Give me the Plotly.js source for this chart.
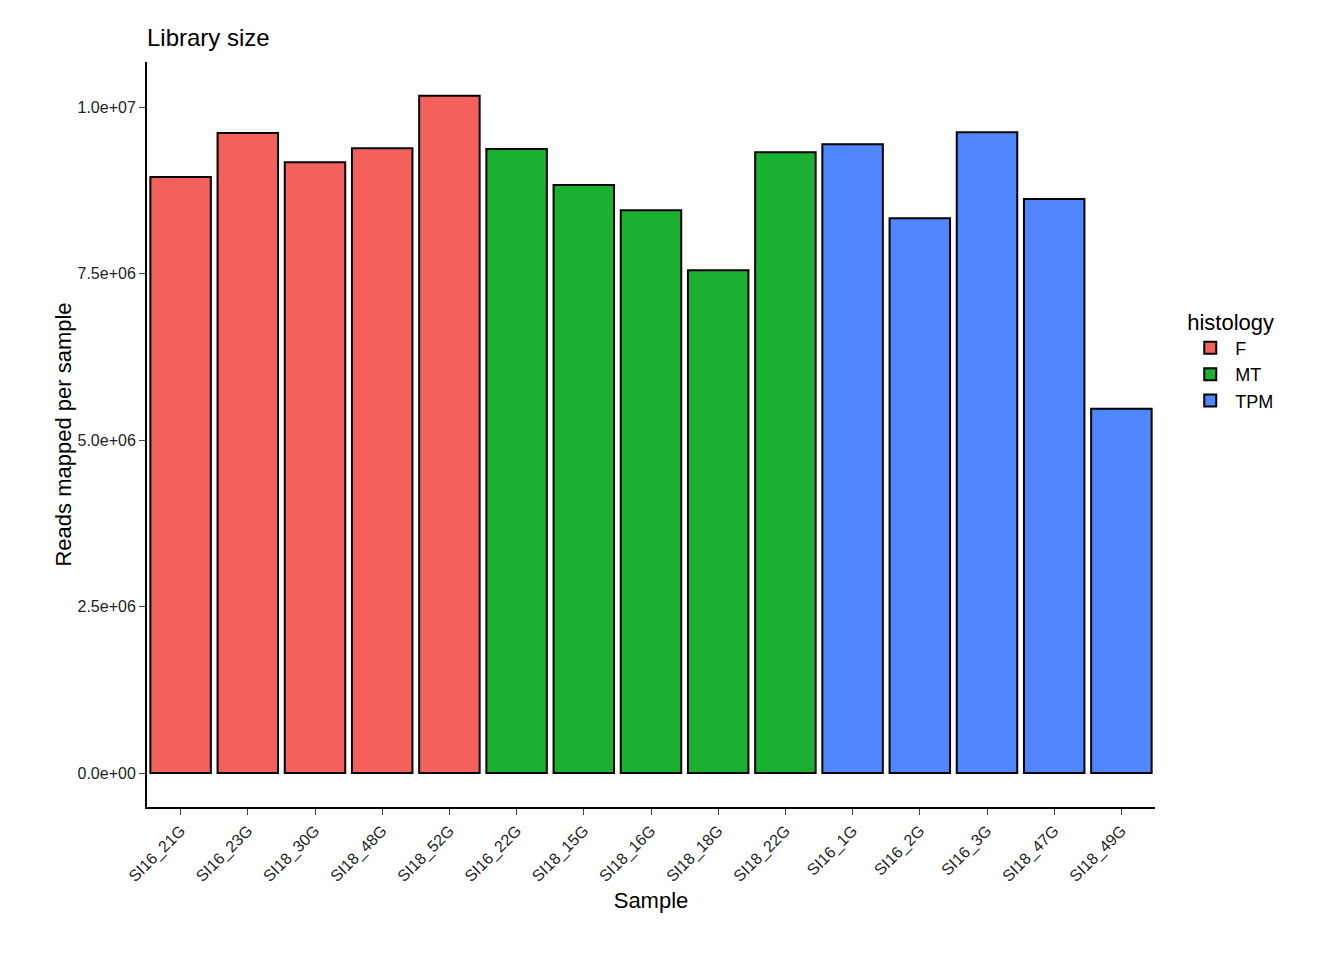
<!DOCTYPE html>
<html>
<head>
<script src="https://cdn.plot.ly/plotly-3.0.1.min.js"></script>
<style>body{margin:0}#chart{width:1344px;height:960px}</style>
</head>
<body>
<div id="chart"></div>
<script>
var samples = ['SI16_21G','SI16_23G','SI18_30G','SI18_48G','SI18_52G','SI16_22G','SI18_15G','SI18_16G','SI18_18G','SI18_22G','SI16_1G','SI16_2G','SI16_3G','SI18_47G','SI18_49G'];
var histology = ['F','F','F','F','F','MT','MT','MT','MT','MT','TPM','TPM','TPM','TPM','TPM'];
var reads = [8.95e6, 9.61e6, 9.17e6, 9.38e6, 1.017e7, 9.37e6, 8.83e6, 8.45e6, 7.55e6, 9.32e6, 9.44e6, 8.33e6, 9.62e6, 8.62e6, 5.47e6];
var groups = ['F','MT','TPM'];
var colors = {F:'#F8766D'.replace('#F8766D','#F4605B'), MT:'#19B12F', TPM:'#5086FF'};
var tickVals = [0, 2.5e6, 5e6, 7.5e6, 1e7];
var tickText = ['0.0e+00','2.5e+06','5.0e+06','7.5e+06','1.0e+07'];

var data = groups.map(function(g){
  var x = [], y = [];
  samples.forEach(function(s,i){ if (histology[i] === g) { x.push(s); y.push(reads[i]); } });
  return {type:'bar', name:g, x:x, y:y, marker:{color:colors[g], line:{color:'black', width:2}}};
});

var layout = {
  width:1344, height:960,
  margin:{l:147, r:189, t:62, b:153},
  paper_bgcolor:'white', plot_bgcolor:'white',
  font:{family:'Liberation Sans, Arial, sans-serif', color:'black'},
  title:{text:'Library size', x:147/1344, xanchor:'left', y:0.97, font:{size:24}},
  barmode:'overlay', bargap:0.1,
  xaxis:{categoryorder:'array', categoryarray:samples, tickangle:-45, ticks:'outside', ticklen:6,
    showline:true, linecolor:'black', linewidth:2, tickfont:{size:16, color:'#222'},
    title:{text:'Sample', font:{size:22}, standoff:8}},
  yaxis:{range:[-0.051e7, 1.0676e7], tickvals:tickVals, ticktext:tickText, ticks:'outside', ticklen:6,
    showline:true, linecolor:'black', linewidth:2, showgrid:false, zeroline:false,
    tickfont:{size:16, color:'#222'}, title:{text:'Reads mapped per sample', font:{size:22}}},
  legend:{x:1.03, y:0.6, xanchor:'left', yanchor:'middle', font:{size:18},
    title:{text:'histology', font:{size:22}}, itemwidth:40, tracegroupgap:8}
};
Plotly.newPlot('chart', data, layout, {displayModeBar:false});
</script>
</body>
</html>
